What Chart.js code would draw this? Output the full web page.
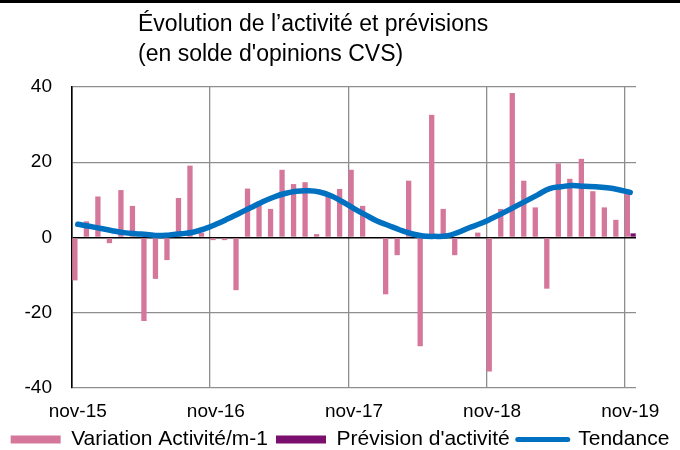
<!DOCTYPE html>
<html>
<head>
<meta charset="utf-8">
<script src="https://cdn.jsdelivr.net/npm/chart.js@4/dist/chart.umd.min.js"></script>
<style>
html,body{margin:0;padding:0;background:#fff;}
#wrap{position:relative;width:680px;height:450px;overflow:hidden;background:#fff;}
#c{position:absolute;left:0;top:0;}
#topline{position:absolute;left:0;top:0;width:680px;height:3px;background:#000;}
#title{position:absolute;left:138px;top:8px;font-family:"Liberation Sans",Arial,sans-serif;font-size:23px;line-height:30px;color:#000;white-space:nowrap;}
</style>
</head>
<body>
<div id="wrap">
<canvas id="c" width="680" height="450"></canvas>
<div id="topline"></div>
<div id="title">Évolution de l’activité et prévisions<br>(en solde d'opinions CVS)</div>
</div>
<script>
const categories = [
  "nov-15","déc-15",
  "janv-16","févr-16","mars-16","avr-16","mai-16","juin-16","juil-16","août-16","sept-16","oct-16","nov-16","déc-16",
  "janv-17","févr-17","mars-17","avr-17","mai-17","juin-17","juil-17","août-17","sept-17","oct-17","nov-17","déc-17",
  "janv-18","févr-18","mars-18","avr-18","mai-18","juin-18","juil-18","août-18","sept-18","oct-18","nov-18","déc-18",
  "janv-19","févr-19","mars-19","avr-19","mai-19","juin-19","juil-19","août-19","sept-19","oct-19","nov-19"
];
const variation = [
  -11.4, 4.3,
  10.9, -1.5, 12.6, 8.4, -22.2, -11.0, -6.0, 10.5, 19.1, 1.3, -0.7, -0.7,
  -14.0, 13.0, 9.5, 7.6, 18.0, 14.2, 14.7, 0.9, 11.0, 12.9, 18.0, 8.4,
  0.0, -15.1, -4.7, 15.1, -28.9, 32.6, 7.6, -4.7, 0.0, 1.3, -35.6, 7.6,
  38.4, 15.1, 8.0, -13.6, 19.7, 15.6, 20.9, 12.3, 8.0, 4.7, 11.8
];
const prevision = [
  null, null,
  null, null, null, null, null, null, null, null, null, null, null, null,
  null, null, null, null, null, null, null, null, null, null, null, null,
  null, null, null, null, null, null, null, null, null, null, null, null,
  null, null, null, null, null, null, null, null, null, null, 1.1
];
const tendance = [
  3.5, 3.0,
  2.4, 1.8, 1.3, 1.0, 0.8, 0.5, 0.7, 1.0, 1.4, 2.3, 3.5, 4.9,
  6.4, 7.9, 9.4, 10.7, 11.7, 12.3, 12.4, 12.1, 11.1, 9.5, 7.7, 6.0,
  4.4, 3.2, 2.0, 1.0, 0.4, 0.3, 0.4, 1.3, 2.6, 3.7, 5.1, 6.6,
  8.2, 9.8, 11.4, 13.0, 13.5, 13.8, 13.6, 13.5, 13.2, 12.7, 12.0
];
const yTickValues = [-40, -20, 0, 20, 40];
const seriesNames = ["Variation Activité/m-1", "Prévision d'activité", "Tendance"];

const FONT = '"Liberation Sans", Arial, sans-serif';
const PINK = '#D5769B', PURPLE = '#7A0F6E', BLUE = '#0070C0', GRID = '#8E8E8E';

new Chart(document.getElementById('c'), {
  data: {
    labels: categories,
    datasets: [
      { type: 'bar', label: seriesNames[0], data: variation, backgroundColor: PINK,
        categoryPercentage: 1.0, barPercentage: 0.92, order: 2, yAxisID: 'y' },
      { type: 'bar', label: seriesNames[1], data: prevision, backgroundColor: PURPLE,
        categoryPercentage: 1.0, barPercentage: 0.92, order: 2, yAxisID: 'y' },
      { type: 'line', label: seriesNames[2], data: tendance, borderColor: BLUE, backgroundColor: BLUE,
        borderWidth: 5.5, pointRadius: 0, pointHoverRadius: 0, tension: 0.4, fill: false,
        borderCapStyle: 'round', borderJoinStyle: 'round', order: 1, yAxisID: 'y' }
    ]
  },
  options: {
    responsive: false,
    animation: false,
    devicePixelRatio: 1,
    layout: { padding: { left: 0, right: 0, top: 87, bottom: -10 } },
    scales: {
      x: {
        offset: true,
        grid: {
          offset: true, drawTicks: false, lineWidth: 1.3,
          color: (ctx) => (ctx.index !== undefined && ctx.index % 12 === 0) ? GRID : 'rgba(0,0,0,0)'
        },
        border: { display: false },
        ticks: {
          autoSkip: false, maxRotation: 0, minRotation: 0, padding: 12, color: '#000',
          font: { family: FONT, size: 19 },
          callback: (v, i) => categories[i].startsWith('nov') ? categories[i] : ''
        },
        afterFit: (s) => { s.height = 33; }
      },
      y: {
        min: -40, max: 40,
        afterBuildTicks: (s) => { s.ticks = yTickValues.map(v => ({ value: v })); },
        grid: {
          drawTicks: false,
          color: (ctx) => (ctx.tick && ctx.tick.value === 0) ? '#000' : GRID,
          lineWidth: (ctx) => (ctx.tick && ctx.tick.value === 0) ? 1.6 : 1.3
        },
        border: { display: true, color: '#000', width: 1.6 },
        ticks: { padding: 20, color: '#000', font: { family: FONT, size: 19 } },
        afterFit: (s) => { s.width = 72; }
      },
      yRight: {
        position: 'right', display: true,
        grid: { display: false, drawOnChartArea: false },
        border: { display: false },
        ticks: { display: false },
        afterFit: (s) => { s.width = 44; }
      }
    },
    plugins: {
      tooltip: { enabled: false },
      title: { display: false },
      legend: {
        position: 'bottom',
        labels: {
          usePointStyle: true, pointStyleWidth: 50, boxWidth: 50, boxHeight: 8, padding: 8,
          color: '#000', font: { family: FONT, size: 21 },
          sort: (a, b) => a.datasetIndex - b.datasetIndex,
          generateLabels: (chart) => {
            const items = Chart.defaults.plugins.legend.labels.generateLabels(chart);
            return items.map(it => {
              const ds = chart.data.datasets[it.datasetIndex];
              if (ds.type === 'line') {
                it.pointStyle = 'line'; it.strokeStyle = ds.borderColor; it.fillStyle = ds.borderColor;
                it.lineWidth = 5; it.lineCap = 'round';
              } else {
                it.pointStyle = 'rect'; it.fillStyle = ds.backgroundColor; it.strokeStyle = ds.backgroundColor;
                it.lineWidth = 0;
              }
              return it;
            });
          }
        }
      }
    }
  }
});
</script>
</body>
</html>
